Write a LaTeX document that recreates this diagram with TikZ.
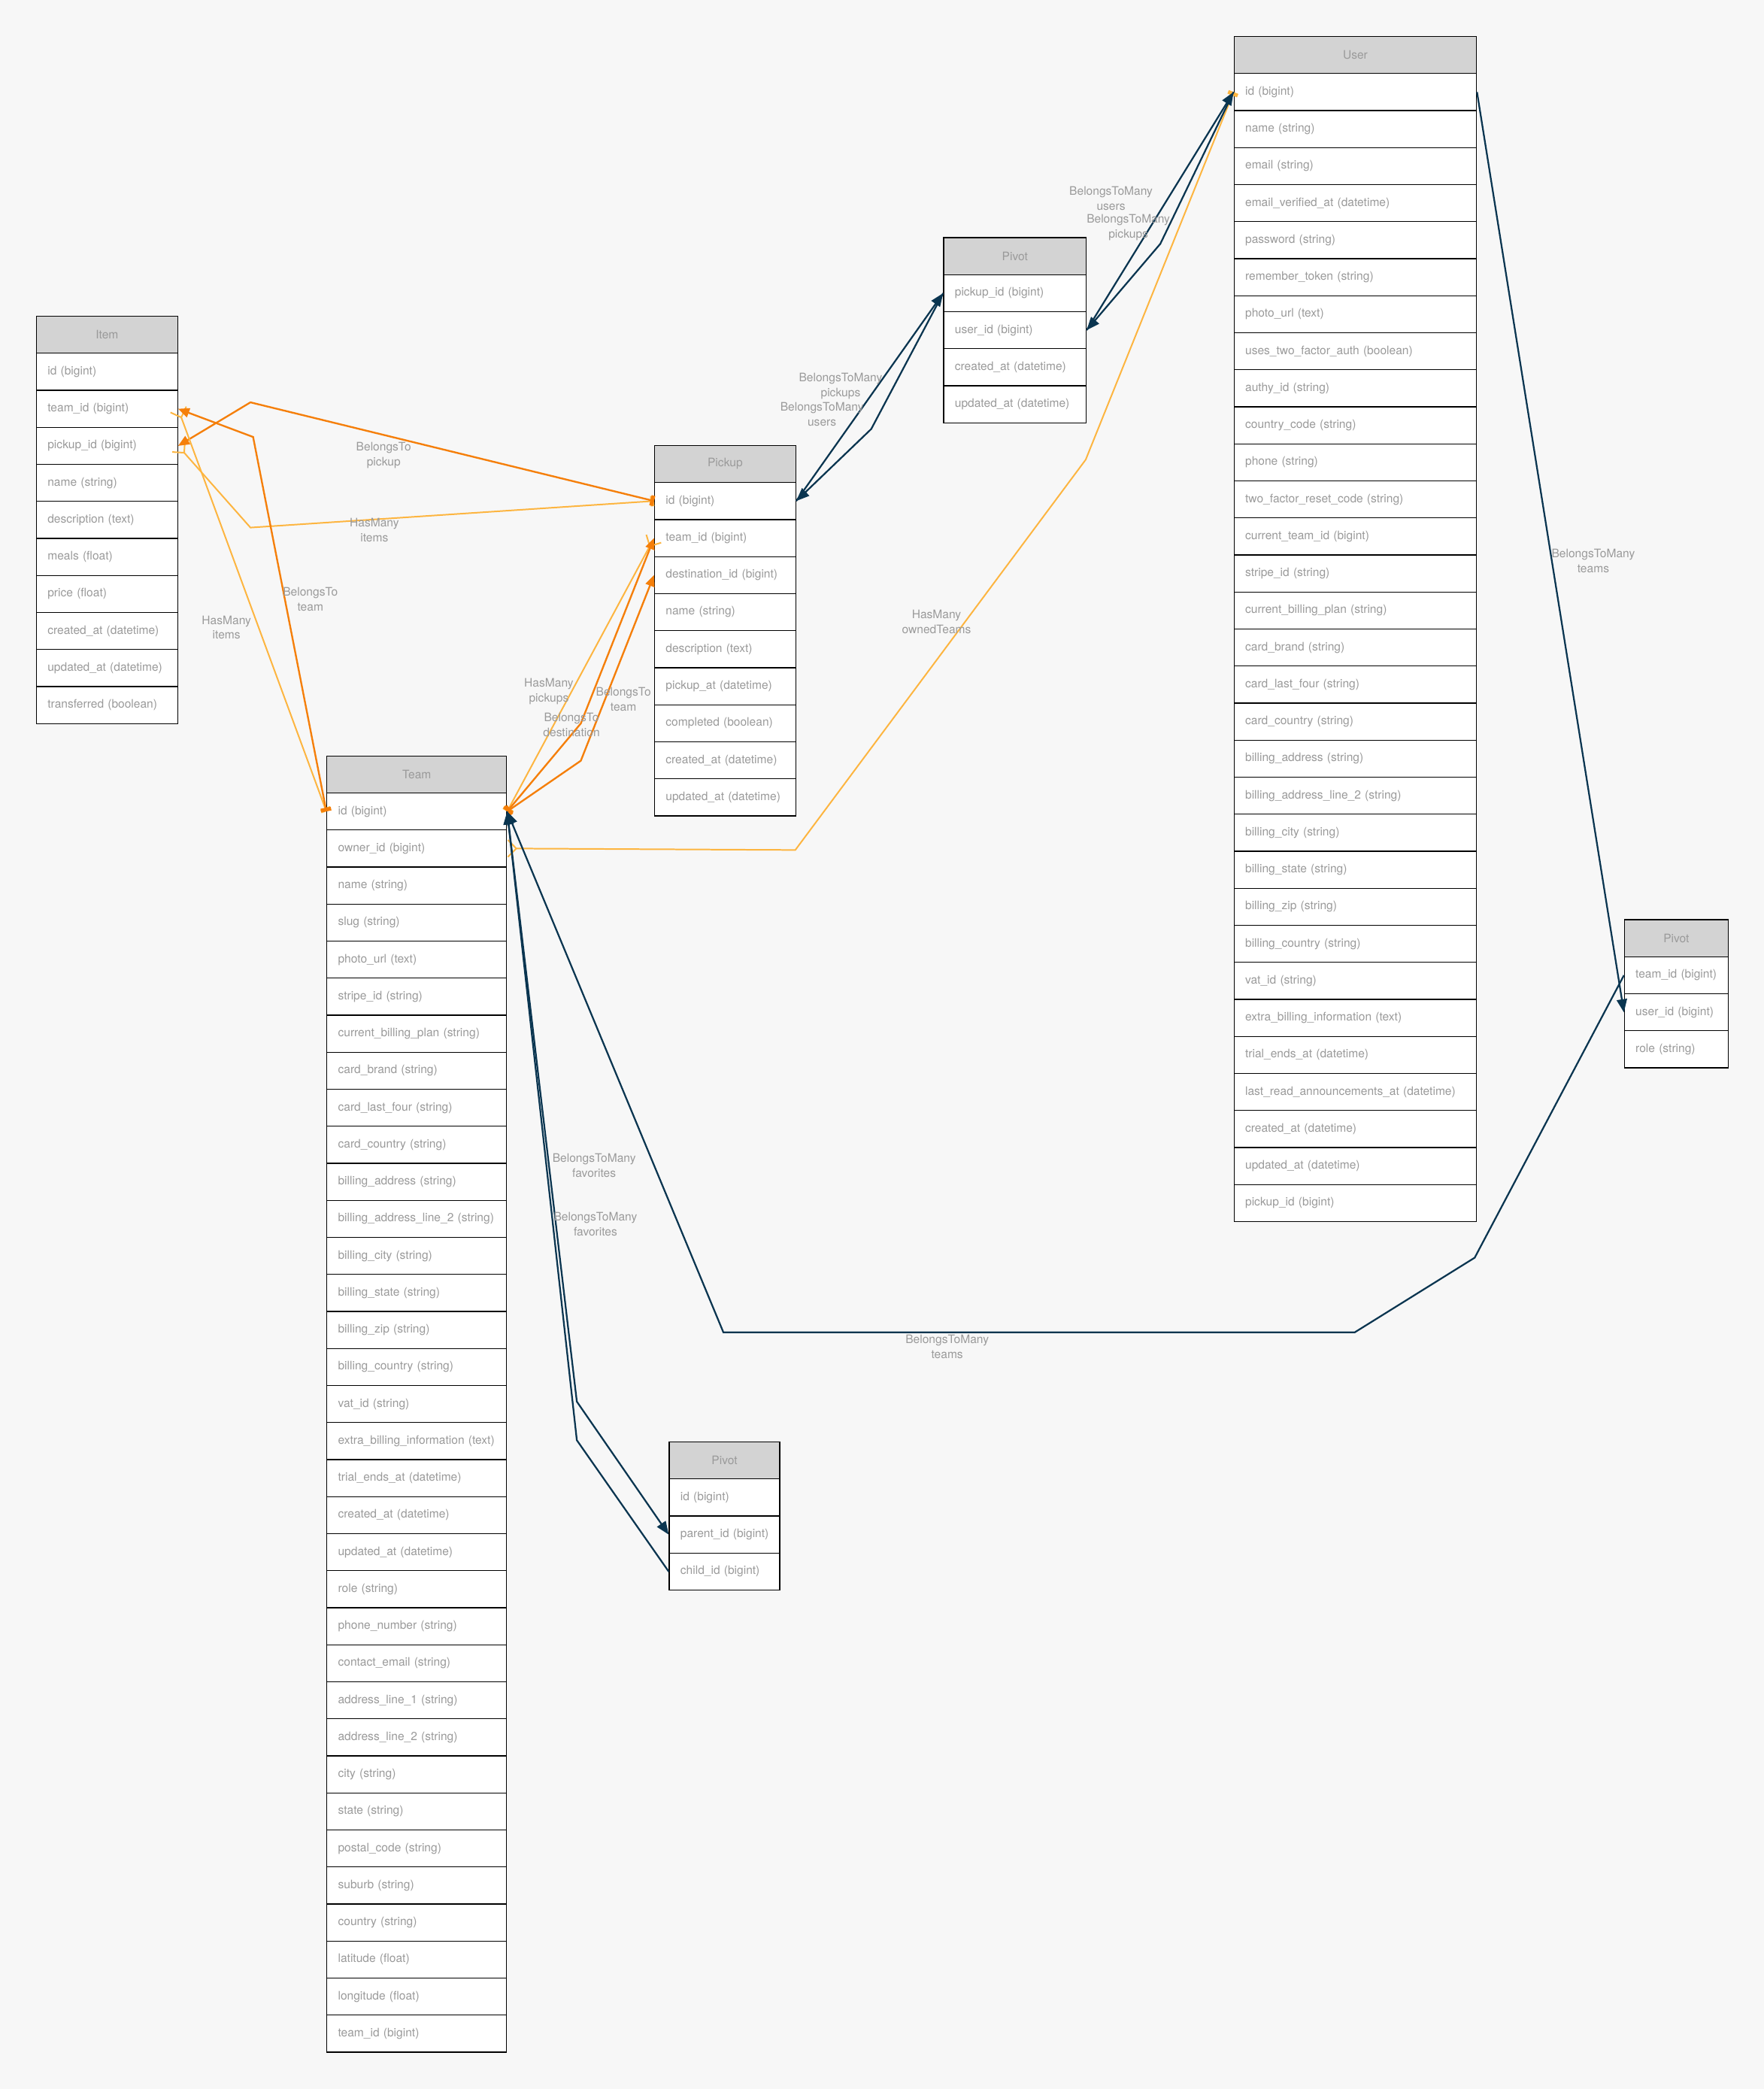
\documentclass[tikz,border=0pt]{standalone}
\usepackage{fontspec}
\setmainfont{TeX Gyre Heros}
\usetikzlibrary{arrows.meta}

\definecolor{erdbg}{HTML}{F7F7F7}
\definecolor{erdhead}{HTML}{D3D3D3}
\definecolor{erdtext}{HTML}{9A9A9A}
\definecolor{erdnavy}{HTML}{0A3550}
\definecolor{erdorange}{HTML}{F57F0A}
\definecolor{erdyellow}{HTML}{FDB540}

\newcommand{\erdfont}{\fontsize{12.5}{16}\selectfont}

\tikzset{
  erdrow/.style={draw=black, line width=1pt, fill=white, anchor=north west,
    minimum height=13.9mm, inner xsep=4.2mm, inner ysep=0pt, align=left,
    text=erdtext, font=\erdfont},
  erdhead/.style={erdrow, fill=erdhead, align=center},
  rel/.style={font=\erdfont, text=erdtext, align=center, inner sep=0pt},
  belongsto/.style={draw=erdorange, line width=1.9pt,
    arrows={Bar[width=11pt,line width=4pt]-Triangle[length=12pt,width=10pt]}},
  hasmany/.style={draw=erdyellow, line width=1.6pt,
    arrows={Bar[width=11pt,line width=4pt]-Straight Barb[reversed,length=9pt,width=18pt]}},
  manymany/.style={draw=erdnavy, line width=1.8pt, arrows={-Triangle[length=14pt,width=11pt]}}
}

% one table: name, x, top, width, title, fields
\newcommand{\erdtable}[6]{%
  \pgfmathsetlengthmacro{\erdtw}{(#4-16.8)*0.5mm}%
  \node[erdhead, text width=\erdtw] (#1-0) at (#2,#3) {#5};
  \foreach \fld [count=\i] in {#6}
    \node[erdrow, text width=\erdtw] (#1-\i) at (#2,{#3+\i*27.8}) {\mbox{\fld}};
}

\begin{document}
\begin{tikzpicture}[x=0.5mm,y=-0.5mm]
\fill[erdbg] (0,0) rectangle (1324,1568);

% tables
\erdtable{item}{27}{237}{106}{Item}{id (bigint), team\_id (bigint), pickup\_id (bigint),
  name (string), description (text), meals (float), price (float),
  created\_at (datetime), updated\_at (datetime), transferred (boolean)}
\erdtable{team}{245}{567}{135}{Team}{id (bigint), owner\_id (bigint), name (string),
  slug (string), photo\_url (text), stripe\_id (string), current\_billing\_plan (string),
  card\_brand (string), card\_last\_four (string), card\_country (string),
  billing\_address (string), billing\_address\_line\_2 (string), billing\_city (string),
  billing\_state (string), billing\_zip (string), billing\_country (string),
  vat\_id (string), extra\_billing\_information (text), trial\_ends\_at (datetime),
  created\_at (datetime), updated\_at (datetime), role (string), phone\_number (string),
  contact\_email (string), address\_line\_1 (string), address\_line\_2 (string),
  city (string), state (string), postal\_code (string), suburb (string),
  country (string), latitude (float), longitude (float), team\_id (bigint)}
\erdtable{pickup}{491}{334}{106}{Pickup}{id (bigint), team\_id (bigint),
  destination\_id (bigint), name (string), description (text), pickup\_at (datetime),
  completed (boolean), created\_at (datetime), updated\_at (datetime)}
\erdtable{ptop}{708}{178}{107}{Pivot}{pickup\_id (bigint), user\_id (bigint),
  created\_at (datetime), updated\_at (datetime)}
\erdtable{user}{926}{27}{182}{User}{id (bigint), name (string), email (string),
  email\_verified\_at (datetime), password (string), remember\_token (string),
  photo\_url (text), uses\_two\_factor\_auth (boolean), authy\_id (string),
  country\_code (string), phone (string), two\_factor\_reset\_code (string),
  current\_team\_id (bigint), stripe\_id (string), current\_billing\_plan (string),
  card\_brand (string), card\_last\_four (string), card\_country (string),
  billing\_address (string), billing\_address\_line\_2 (string), billing\_city (string),
  billing\_state (string), billing\_zip (string), billing\_country (string),
  vat\_id (string), extra\_billing\_information (text), trial\_ends\_at (datetime),
  last\_read\_announcements\_at (datetime), created\_at (datetime),
  updated\_at (datetime), pickup\_id (bigint)}
\erdtable{pright}{1219}{690}{78}{Pivot}{team\_id (bigint), user\_id (bigint), role (string)}
\erdtable{pfav}{502}{1082}{83}{Pivot}{id (bigint), parent\_id (bigint), child\_id (bigint)}

% one-to-many
\draw[hasmany] (pickup-1.west) -- (188,396) -- (item-3.east);
\draw[belongsto] (pickup-1.west) -- (188,302) -- (item-3.east);
\draw[hasmany] (team-1.west) -- (item-2.east);
\draw[belongsto] (team-1.west) -- (190,328) -- (item-2.east);
\draw[hasmany] (team-1.east) -- (pickup-2.west);
\draw[belongsto] (team-1.east) -- (436,543) -- (pickup-2.west);
\draw[belongsto] (team-1.east) -- (436,571) -- (pickup-3.west);
\draw[hasmany] (user-1.west) -- (815,345) -- (597,638) -- (team-2.east);

% many-to-many
\draw[manymany] (pickup-1.east) -- (ptop-1.west);
\draw[manymany] (ptop-1.west) -- (654,322) -- (pickup-1.east);
\draw[manymany] (ptop-2.east) -- (user-1.west);
\draw[manymany] (user-1.west) -- (871,183) -- (ptop-2.east);
\draw[manymany] (user-1.east) -- (pright-2.west);
\draw[manymany] (pright-1.west) -- (1107,944) -- (1017,1000) -- (543,1000) -- (team-1.east);
\draw[manymany] (team-1.east) -- (433,1052) -- (pfav-2.west);
\draw[manymany] (pfav-3.west) -- (433,1081) -- (team-1.east);

% labels
\node[rel] (lbl-pickup) at (288,342) {BelongsTo\\pickup};
\node[rel] (lbl-items1) at (281,398) {HasMany\\items};
\node[rel] (lbl-team1) at (233,450) {BelongsTo\\team};
\node[rel] (lbl-items2) at (170,471) {HasMany\\items};
\node[rel] (lbl-pickups) at (412,519) {HasMany\\pickups};
\node[rel] (lbl-team2) at (468,525) {BelongsTo\\team};
\node[rel] (lbl-dest) at (429,544) {BelongsTo\\destination};
\node[rel] (lbl-owned) at (703,467) {HasMany\\ownedTeams};
\node[rel] (lbl-btm1) at (631,290) {BelongsToMany\\pickups};
\node[rel] (lbl-btm2) at (617,311) {BelongsToMany\\users};
\node[rel] (lbl-btm3) at (834,149) {BelongsToMany\\users};
\node[rel] (lbl-btm4) at (847,171) {BelongsToMany\\pickups};
\node[rel] (lbl-btm5) at (1196,421) {BelongsToMany\\teams};
\node[rel] (lbl-btm6) at (711,1011) {BelongsToMany\\teams};
\node[rel] (lbl-fav1) at (446,875) {BelongsToMany\\favorites};
\node[rel] (lbl-fav2) at (447,919) {BelongsToMany\\favorites};
\end{tikzpicture}
\end{document}
